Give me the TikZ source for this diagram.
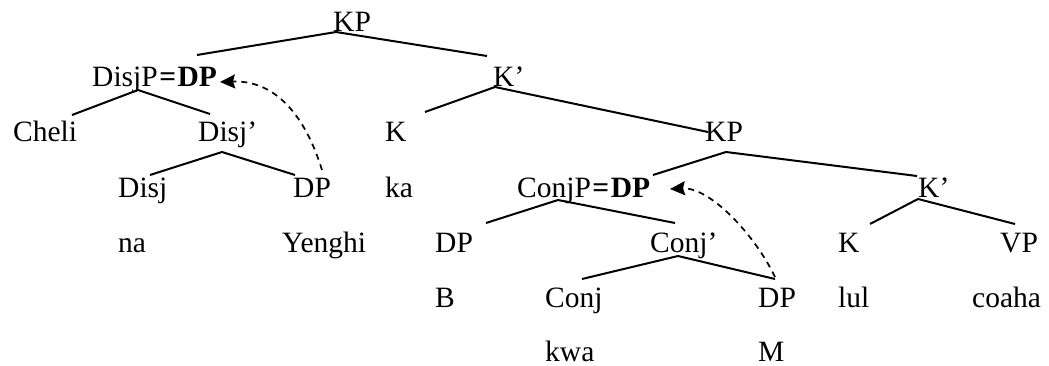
\documentclass[tikz,border=0pt]{standalone}
\usepackage{fontspec}
\setmainfont{Liberation Serif}
\usetikzlibrary{arrows.meta}
\begin{document}
\begin{tikzpicture}[x=1pt,y=-1pt,
  lbl/.style={anchor=base west,inner sep=0pt,font=\fontsize{29.5}{30}\selectfont},
  edge/.style={line width=2pt},
  mv/.style={line width=1.7pt,dash pattern=on 6pt off 5pt,-{Stealth[length=15pt,width=14pt,inset=2pt]}}]
\useasboundingbox (0,0) rectangle (1049,366);
% row 0
\node[lbl] (KP0) at (333,32) {KP};
% row 1
\node[lbl] (DisjP) at (92,87) {DisjP\kern1.5pt\textbf{=}\kern1.5pt\textbf{DP}};
\node[lbl] (Kb1) at (493,87) {K’};
% row 2
\node[lbl] (Cheli) at (13,142) {Cheli};
\node[lbl] (Disjbar) at (198,142) {Disj’};
\node[lbl] (K2) at (385,142) {K};
\node[lbl] (KP2) at (705,142) {KP};
% row 3
\node[lbl] (Disj) at (118,197) {Disj};
\node[lbl] (DP1) at (293,197) {DP};
\node[lbl] (ka) at (385,197) {ka};
\node[lbl] (ConjP) at (517,197) {ConjP\kern1.5pt\textbf{=}\kern1.5pt\textbf{DP}};
\node[lbl] (Kb2) at (918,197) {K’};
% row 4
\node[lbl] (na) at (118,252) {na};
\node[lbl] (Yenghi) at (282,252) {Yenghi};
\node[lbl] (DP2) at (435,252) {DP};
\node[lbl] (Conjbar) at (650,252) {Conj’};
\node[lbl] (K3) at (838,252) {K};
\node[lbl] (VP) at (1000,252) {VP};
% row 5
\node[lbl] (B) at (435,307) {B};
\node[lbl] (Conj) at (545,307) {Conj};
\node[lbl] (DP3) at (758,307) {DP};
\node[lbl] (lul) at (838,307) {lul};
\node[lbl] (coaha) at (972,307) {coaha};
% row 6
\node[lbl] (kwa) at (545,361) {kwa};
\node[lbl] (M) at (758,361) {M};
% tree lines
\draw[edge] ([shift={(105,-32)}]DisjP.base west) -- ([shift={(3,0)}]KP0.base west) -- ([shift={(-6,-31)}]Kb1.base west);
\draw[edge] ([shift={(59,-27)}]Cheli.base west) -- ([shift={(46,3)}]DisjP.base west) -- ([shift={(12,-28)}]Disjbar.base west);
\draw[edge] ([shift={(32,-22)}]Disj.base west) -- ([shift={(24,10)}]Disjbar.base west) -- ([shift={(2,-22)}]DP1.base west);
\draw[edge] ([shift={(40,-30)}]K2.base west) -- ([shift={(2,0)}]Kb1.base west) -- ([shift={(3,-10)}]KP2.base west);
\draw[edge] ([shift={(136,-22)}]ConjP.base west) -- ([shift={(21,10)}]KP2.base west) -- ([shift={(-1,-21)}]Kb2.base west);
\draw[edge] ([shift={(51,-29)}]DP2.base west) -- ([shift={(41,3)}]ConjP.base west) -- ([shift={(25,-29)}]Conjbar.base west);
\draw[edge] ([shift={(37,-28)}]Conj.base west) -- ([shift={(28,4)}]Conjbar.base west) -- ([shift={(17,-28)}]DP3.base west);
\draw[edge] ([shift={(32,-28)}]K3.base west) -- ([shift={(0,2)}]Kb2.base west) -- ([shift={(15,-28)}]VP.base west);
% movement arrows
\draw[mv] ([shift={(29,-27)}]DP1.base west) .. controls ([shift={(12,-82)}]DP1.base west) and ([shift={(183,-7)}]DisjP.base west) .. ([shift={(128,-5)}]DisjP.base west);
\draw[mv] ([shift={(17,-30)}]DP3.base west) .. controls ([shift={(-3,-72)}]DP3.base west) and ([shift={(193,-10)}]ConjP.base west) .. ([shift={(153,-8)}]ConjP.base west);
\end{tikzpicture}
\end{document}
